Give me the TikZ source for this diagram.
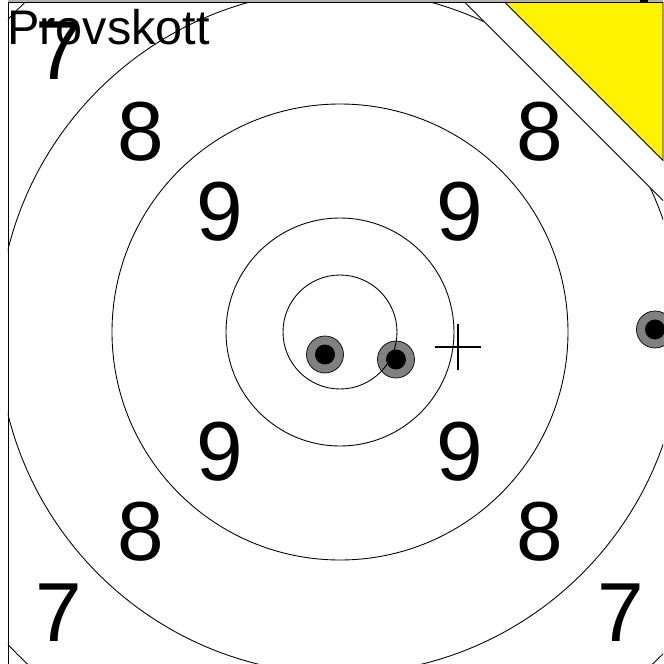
\documentclass[tikz,border=0pt]{standalone}
\usepackage{fontspec}
\setmainfont{Liberation Sans}
\tikzset{
  ring/.style={line width=0.75pt},
  shot/.style={draw, line width=0.6pt, fill=gray},
  hole/.style={fill=black},
  score/.style={inner sep=0pt, font=\fontsize{71.5}{72}\selectfont},
}
\begin{document}
\begin{tikzpicture}[x=0.03cm, y=0.03cm]
  \useasboundingbox (-340,-332) rectangle (323,332);

  % Traffar
  \filldraw[shot] (-15,-22.5) circle (18.5);
  \fill[hole] (-15,-22.5) circle (10);
  \filldraw[shot] (56,-27.5) circle (18.5);
  \fill[hole] (56,-27.5) circle (10);
  \filldraw[shot] (315,2.5) circle (18.5);
  \fill[hole] (315,2.5) circle (10);

  % Ringar
  \begin{scope}
    \clip (-332,329.5) rectangle (323,-332);
    \foreach \r in {57,114,228,342,456}
      \draw[ring] (0,0) circle (\r);
  \end{scope}

  % Provskottsmarkering
  \fill[white] (125,329.5) -- (323,131.5) -- (323,329.5) -- cycle;
  \draw[ring] (125,329.5) -- (323,131.5);
  \filldraw[fill=yellow, ring] (165,329.5) -- (323,171.5) -- (323,329.5) -- cycle;

  % Ram
  \fill[gray!60] (-332,329.5) rectangle (323,332);
  \fill (300,329.5) rectangle (308,332);
  \draw[line width=0.9pt] (-332,329.5) -- (323,329.5);
  \draw[line width=0.8pt] (-332,329.5) -- (-332,-332);

  % Siktkors
  \coordinate (mitt) at (118,-15);
  \draw[line width=1.1pt] (mitt) ++(-23,0) -- ++(46,0);
  \draw[line width=1.1pt] (mitt) ++(0,23) -- ++(0,-46);

  % Poang
  \node[score] (n9a) at (-120,120) {9};
  \node[score] (n9b) at (120,120) {9};
  \node[score] (n9c) at (-120,-120) {9};
  \node[score] (n9d) at (120,-120) {9};
  \node[score] (n8a) at (-199,200) {8};
  \node[score] (n8b) at (200,200) {8};
  \node[score] (n8c) at (-199,-200) {8};
  \node[score] (n8d) at (200,-200) {8};
  \node[score] (n7a) at (-281,281) {7};
  \node[score] (n7c) at (-281,-281) {7};
  \node[score] (n7d) at (281,-281) {7};

  \node[inner sep=0pt, anchor=base west, font=\fontsize{41.5}{42}\selectfont] (titel) at (-333,287) {Provskott};
\end{tikzpicture}
\end{document}
